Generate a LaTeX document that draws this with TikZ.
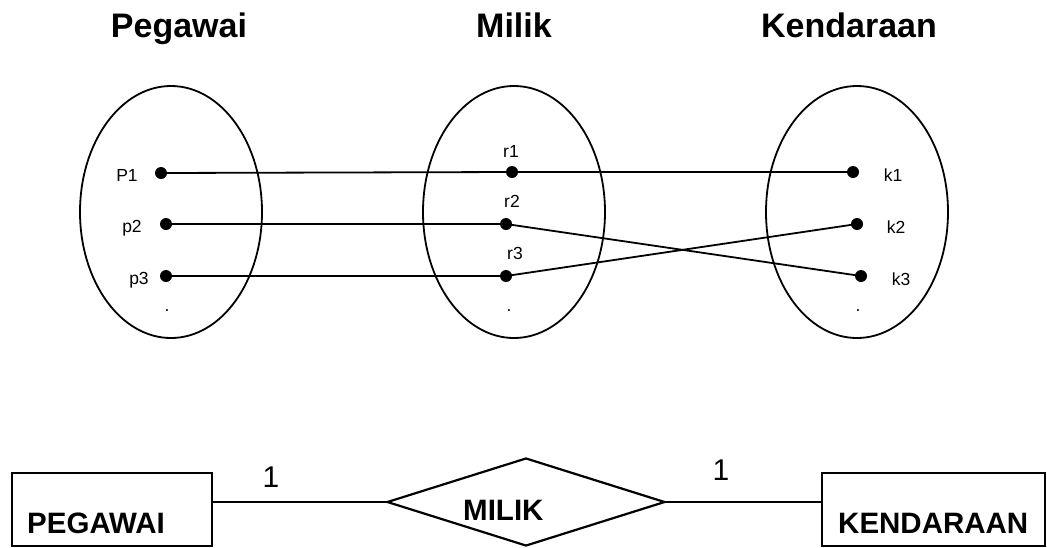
\documentclass[tikz,border=0pt]{standalone}
\usepackage{fontspec}
\setmainfont{Liberation Sans}
\usetikzlibrary{shapes.geometric}
\begin{document}
\begin{tikzpicture}[x=1pt, y=-1pt,
  setbox/.style={draw, ellipse, line width=1.8pt, minimum width=182pt, minimum height=252pt, inner sep=0pt},
  pt/.style={circle, fill=black, minimum size=12pt, inner sep=0pt},
  title/.style={font=\fontsize{34}{40}\selectfont\bfseries, inner sep=0pt, anchor=base},
  lbl/.style={font=\fontsize{17.5}{20}\selectfont, inner sep=0pt, anchor=base},
  link/.style={line width=1.8pt},
  entity/.style={draw, rectangle, line width=2.2pt, inner sep=0pt},
  erlbl/.style={font=\fontsize{29.5}{32}\selectfont\bfseries, inner sep=0pt, anchor=base west},
  card/.style={font=\fontsize{30}{34}\selectfont, inner sep=0pt, anchor=base},
  erline/.style={line width=2.2pt}]
\useasboundingbox (0,0) rectangle (1047,547);
% titles
\node[title] (tpeg) at (179,37) {Pegawai};
\node[title] (tmil) at (514,37) {Milik};
\node[title] (tken) at (849,37) {Kendaraan};
% sets
\node[setbox] (epeg) at (171,212) {};
\node[setbox] (emil) at (514,212) {};
\node[setbox] (eken) at (857,212) {};
% points
\node[pt] (p1) at (161,173) {};
\node[pt] (p2) at (166,224) {};
\node[pt] (p3) at (166,276) {};
\node[pt] (r1) at (512,172) {};
\node[pt] (r2) at (506,224) {};
\node[pt] (r3) at (506,276) {};
\node[pt] (k1) at (853,172) {};
\node[pt] (k2) at (857,224) {};
\node[pt] (k3) at (861,276) {};
% point labels
\node[lbl] (lp1) at (127,181) {P1};
\node[lbl] (lp2) at (132,232) {p2};
\node[lbl] (lp3) at (139,284) {p3};
\node[lbl] (dp) at (167,311) {.};
\node[lbl] (lr1) at (511,157) {r1};
\node[lbl] (lr2) at (512,207) {r2};
\node[lbl] (lr3) at (515,259) {r3};
\node[lbl] (dr) at (509,311) {.};
\node[lbl] (lk1) at (893,181) {k1};
\node[lbl] (lk2) at (896,233) {k2};
\node[lbl] (lk3) at (901,285) {k3};
\node[lbl] (dk) at (858,311) {.};
% mappings
\draw[link] (p1.center) -- (r1.center) -- (k1.center);
\draw[link] (p2.center) -- (r2.center) -- (k3.center);
\draw[link] (p3.center) -- (r3.center) -- (k2.center);
% ER diagram
\node[entity, minimum width=200pt, minimum height=73pt] (pegawai) at (112,509.5) {};
\node[entity, minimum width=223pt, minimum height=73pt] (kendaraan) at (933.5,509.5) {};
\node[draw, diamond, line width=2.2pt, inner sep=0pt, aspect=3.16, minimum width=278pt, minimum height=88pt] (milik) at (526,502) {};
\node[erlbl] (tpegawai) at (27,533) {PEGAWAI};
\node[erlbl] (tkendaraan) at (838,533) {KENDARAAN};
\node[erlbl] (tmilik) at (463,520) {MILIK};
\draw[erline] (pegawai.east |- milik.west) -- (milik.west);
\draw[erline] (milik.east) -- (kendaraan.west |- milik.east);
\node[card] (c1) at (271,487) {1};
\node[card] (c2) at (721,480) {1};
\end{tikzpicture}
\end{document}
